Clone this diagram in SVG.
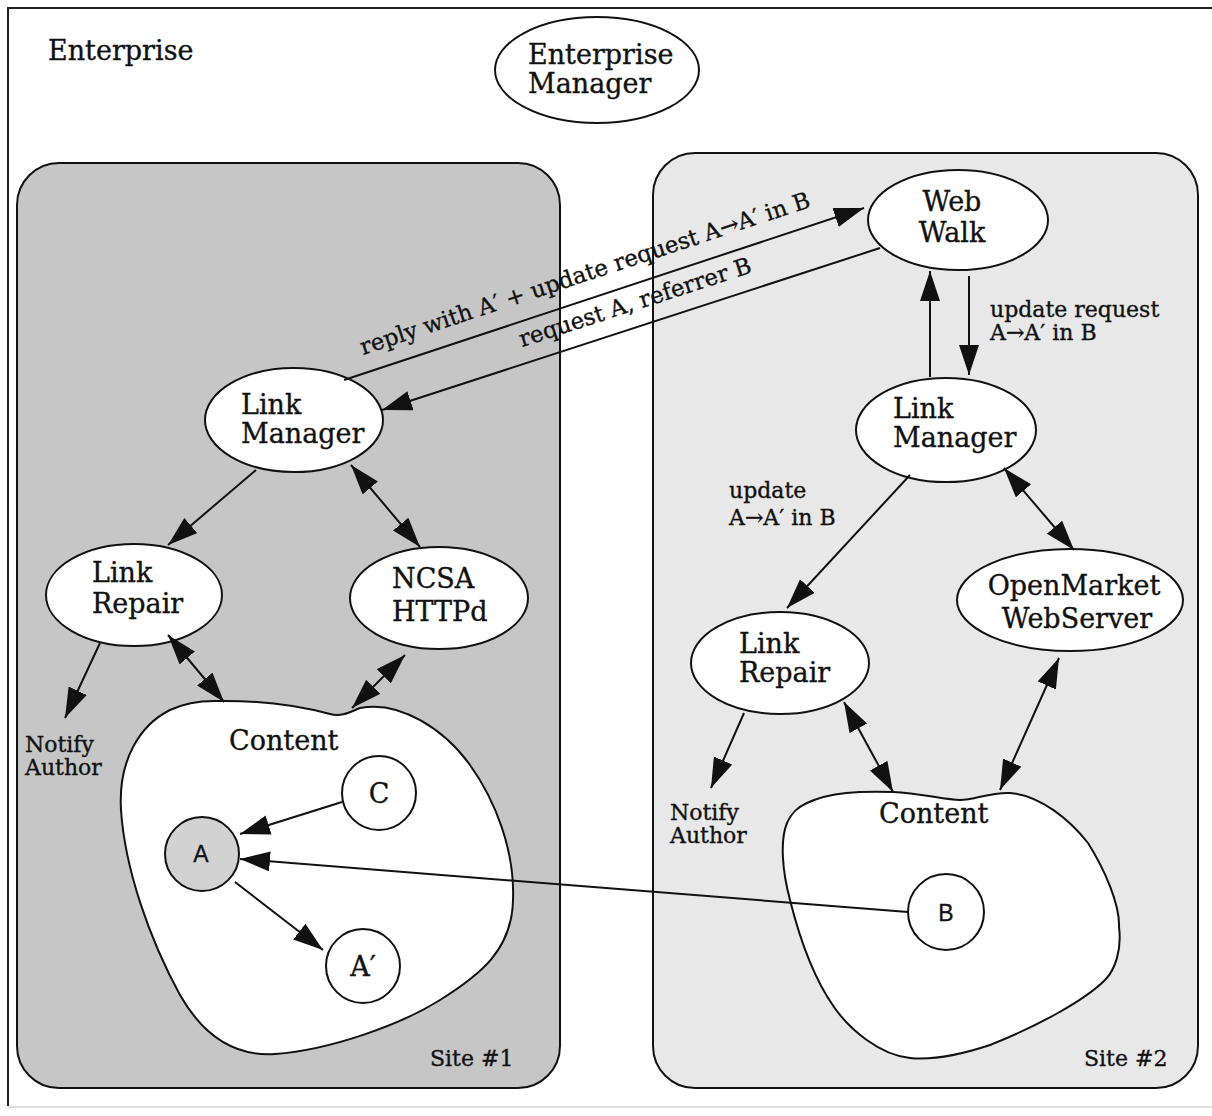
<svg xmlns="http://www.w3.org/2000/svg" width="1212" height="1116" viewBox="0 0 1212 1116">
<defs>
<style>
.t{font-family:"DejaVu Serif","Liberation Serif",serif;fill:#111;stroke:#111;stroke-width:0.35}
.big{font-size:27px}
.sm{font-size:22px}
.dg{font-size:22.8px}
.sans{font-family:"Liberation Sans","DejaVu Sans",sans-serif;font-size:23px;fill:#111;stroke:#111;stroke-width:0.3}
.node{fill:#fff;stroke:#111;stroke-width:2}
.edge{fill:none;stroke:#111;stroke-width:2}
.a{marker-end:url(#ah)}
.b{marker-start:url(#ah);marker-end:url(#ah)}
</style>
<marker id="ah" markerUnits="userSpaceOnUse" markerWidth="32" markerHeight="22" refX="30" refY="10" orient="auto-start-reverse">
<path d="M0,0 L30,10 L0,20 Z" fill="#111"/>
</marker>
</defs>
<rect width="1212" height="1116" fill="#fff"/>
<path d="M8,1106 V8 H1212" fill="none" stroke="#222" stroke-width="2"/>
<path d="M8,1107 H1212" fill="none" stroke="#d0d0d0" stroke-width="1.5"/>

<g id="site1">
<rect x="17" y="163" width="543" height="925" rx="42" ry="42" fill="#c6c6c6" stroke="#111" stroke-width="2"/>
<text class="t sm" x="430" y="1066">Site #1</text>
</g>
<g id="site2">
<rect x="653" y="153" width="545" height="935" rx="42" ry="42" fill="#e8e8e8" stroke="#111" stroke-width="2"/>
<text class="t sm" x="1084" y="1066">Site #2</text>
</g>

<text id="enterprise-label" class="t big" x="48" y="60">Enterprise</text>

<g id="enterprise-manager">
<ellipse class="node" cx="597" cy="70" rx="102" ry="53"/>
<text class="t big" x="528" y="64">Enterprise</text>
<text class="t big" x="528" y="93">Manager</text>
</g>

<g id="content1">
<path class="node" d="M214,701 C260,700 300,706 330,714 C342,717 350,712 360,708 C400,700 445,730 470,765 C495,800 515,850 513,900 C512,950 480,975 440,1000 C400,1025 330,1050 275,1054 C230,1057 200,1030 180,995 C150,940 125,870 121,810 C118,760 140,725 170,710 C185,703 200,701 214,701 Z"/>
<text class="t big" x="229" y="750">Content</text>
</g>
<g id="content2">
<path class="node" d="M807,803 C830,792 860,791 893,792 C920,793 945,800 960,800 C975,800 990,792 1010,793 C1040,795 1070,820 1088,843 C1105,870 1120,905 1119,927 C1122,950 1115,970 1105,980 C1085,1000 1040,1025 990,1045 C960,1055 930,1060 910,1058 C880,1055 850,1030 834,1007 C815,980 800,940 790,900 C782,870 780,840 787,823 C792,812 798,807 807,803 Z"/>
<text class="t big" x="879" y="823">Content</text>
</g>

<g id="web-walk">
<ellipse class="node" cx="958" cy="220" rx="90" ry="50"/>
<text class="t big" x="952" y="211" text-anchor="middle">Web</text>
<text class="t big" x="952" y="242" text-anchor="middle">Walk</text>
</g>
<g id="link-manager-1">
<ellipse class="node" cx="294" cy="420" rx="89" ry="52"/>
<text class="t big" x="241" y="414">Link</text>
<text class="t big" x="241" y="443">Manager</text>
</g>
<g id="link-repair-1">
<ellipse class="node" cx="134" cy="595" rx="88" ry="51"/>
<text class="t big" x="92" y="582">Link</text>
<text class="t big" x="92" y="613">Repair</text>
</g>
<g id="ncsa">
<ellipse class="node" cx="439" cy="598" rx="89" ry="51"/>
<text class="t big" x="392" y="588">NCSA</text>
<text class="t big" x="392" y="621">HTTPd</text>
</g>
<g id="link-manager-2">
<ellipse class="node" cx="946" cy="430" rx="90" ry="52"/>
<text class="t big" x="893" y="418">Link</text>
<text class="t big" x="893" y="447">Manager</text>
</g>
<g id="link-repair-2">
<ellipse class="node" cx="780" cy="663" rx="89" ry="51"/>
<text class="t big" x="739" y="653">Link</text>
<text class="t big" x="739" y="682">Repair</text>
</g>
<g id="openmarket">
<ellipse class="node" cx="1070" cy="600" rx="113" ry="51"/>
<text class="t big" x="1074" y="595" text-anchor="middle">OpenMarket</text>
<text class="t big" x="1077" y="628" text-anchor="middle">WebServer</text>
</g>

<g id="notify-1">
<text class="t sm" x="25" y="752">Notify</text>
<text class="t sm" x="25" y="775">Author</text>
</g>
<g id="notify-2">
<text class="t sm" x="670" y="820">Notify</text>
<text class="t sm" x="670" y="843">Author</text>
</g>

<g id="doc-c">
<circle class="node" cx="379" cy="793" r="37"/>
<text class="t big" x="379" y="803" text-anchor="middle">C</text>
</g>
<g id="doc-a">
<circle cx="202" cy="854" r="37" fill="#d2d2d2" stroke="#111" stroke-width="2"/>
<text class="sans" x="201" y="862" text-anchor="middle">A</text>
</g>
<g id="doc-a2">
<circle class="node" cx="363" cy="966" r="37"/>
<text class="t big" x="363" y="976" text-anchor="middle">A′</text>
</g>
<g id="doc-b">
<circle class="node" cx="946" cy="912" r="38"/>
<text class="sans" x="946" y="921" text-anchor="middle">B</text>
</g>

<g id="connectors">
<line class="edge a" x1="344" y1="380" x2="864" y2="208"/>
<line class="edge a" x1="880" y1="248" x2="382" y2="410"/>
<line class="edge a" x1="930" y1="377" x2="930" y2="271"/>
<line class="edge a" x1="969" y1="276" x2="969" y2="375"/>
<line class="edge a" x1="256" y1="470" x2="168" y2="545"/>
<line class="edge b" x1="351" y1="465" x2="420" y2="547"/>
<line class="edge a" x1="100" y1="643" x2="65" y2="718"/>
<line class="edge b" x1="168" y1="635" x2="224" y2="702"/>
<line class="edge b" x1="405" y1="655" x2="352" y2="708"/>
<line class="edge a" x1="910" y1="475" x2="787" y2="608"/>
<line class="edge b" x1="1004" y1="468" x2="1074" y2="550"/>
<line class="edge a" x1="744" y1="713" x2="711" y2="788"/>
<line class="edge b" x1="844" y1="702" x2="893" y2="792"/>
<line class="edge b" x1="1059" y1="658" x2="1000" y2="790"/>
<line class="edge a" x1="342" y1="802" x2="240" y2="834"/>
<line class="edge a" x1="908" y1="912" x2="240" y2="859"/>
<line class="edge a" x1="235" y1="882" x2="323" y2="950"/>
<text class="t dg" transform="translate(363,355) rotate(-18.3)">reply with A′ + update request A→A′ in B</text>
<text class="t dg" transform="translate(522,347) rotate(-18)">request A, referrer B</text>
<text class="t sm" x="990" y="317">update request</text>
<text class="t sm" x="990" y="340">A→A′ in B</text>
<text class="t sm" x="729" y="498">update</text>
<text class="t sm" x="729" y="525">A→A′ in B</text>
</g>
</svg>
